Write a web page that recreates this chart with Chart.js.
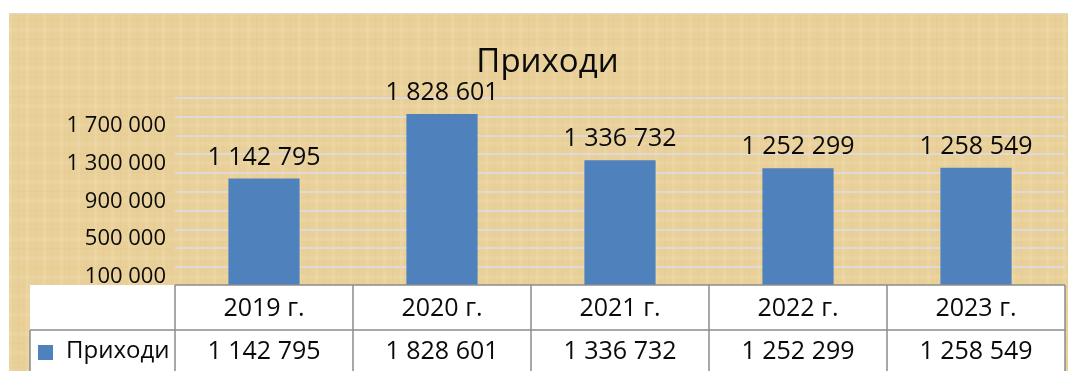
<!DOCTYPE html>
<html lang="bg">
<head>
  <meta charset="UTF-8">
  <title>Приходи</title>
  <script src="https://cdn.jsdelivr.net/npm/chart.js"></script>
  <style>
    body { margin: 0; background: #fff; }
    #wrap { position: relative; width: 1073px; height: 371px; overflow: hidden; background: #fff; }
    #papyrus {
      position: absolute; left: 9px; top: 13px; width: 1059px; height: 360px;
      border-top: 1px solid #ddd9d9;
      background-color: #e9d099;
      background-image:
        repeating-linear-gradient(90deg, rgba(255,250,225,0.10) 0 3px, transparent 3px 9px, rgba(150,110,40,0.04) 9px 10px, transparent 10px 17px),
        repeating-linear-gradient(0deg, rgba(255,250,225,0.08) 0 4px, transparent 4px 11px, rgba(150,110,40,0.035) 11px 12px, transparent 12px 19px);
    }
    #chart { position: absolute; left: 0; top: 0; }
  </style>
</head>
<body>
  <div id="wrap">
    <div id="papyrus"></div>
    <canvas id="chart" width="1073" height="371"></canvas>
  </div>

  <script>
  const title = 'Приходи';
  const seriesName = 'Приходи';
  const years = ['2019 г.', '2020 г.', '2021 г.', '2022 г.', '2023 г.'];
  const income = [1142795, 1828601, 1336732, 1252299, 1258549];
  const labeledTicks = [100000, 500000, 900000, 1300000, 1700000];

  const FONT = '"Open Sans", sans-serif';
  const BLUE = '#4f81bd';
  const INK = '#0a0a0a';

  // 1 142 795 style
  function fmt(v) {
    return String(v).replace(/\B(?=(\d{3})+(?!\d))/g, ' ');
  }

  // value labels above the bars
  const barLabels = {
    id: 'barLabels',
    afterDatasetsDraw(chart) {
      const c = chart.ctx;
      const meta = chart.getDatasetMeta(0);
      c.save();
      c.font = '25px ' + FONT;
      c.fillStyle = INK;
      c.textAlign = 'center';
      c.textBaseline = 'alphabetic';
      meta.data.forEach((bar, i) => {
        c.fillText(fmt(income[i]), bar.x, bar.y - 14);
      });
      c.restore();
    }
  };

  // data table under the plot
  const dataTable = {
    id: 'dataTable',
    afterDraw(chart) {
      const c = chart.ctx;
      const area = chart.chartArea;
      const xs = chart.scales.x;
      const colW = (area.right - area.left) / years.length;
      const top = area.bottom - 1;
      const mid = top + 45;
      const bot = mid + 45;
      const left = 30;

      c.save();
      c.fillStyle = '#fff';
      c.fillRect(left, top, area.right - left, bot - top);

      c.strokeStyle = '#8c8c8c';
      c.lineWidth = 1.5;
      c.beginPath();
      c.moveTo(area.left, top); c.lineTo(area.right, top);
      c.moveTo(left, mid); c.lineTo(area.right, mid);
      c.moveTo(left, mid); c.lineTo(left, bot);
      for (let i = 0; i <= years.length; i++) {
        const x = area.left + i * colW;
        c.moveTo(x, top); c.lineTo(x, bot);
      }
      c.stroke();

      c.font = '25px ' + FONT;
      c.fillStyle = INK;
      c.textAlign = 'center';
      c.textBaseline = 'middle';
      years.forEach((y, i) => {
        const x = xs.getPixelForValue(i);
        c.fillText(y, x, (top + mid) / 2 + 1);
        c.fillText(fmt(income[i]), x, (mid + bot) / 2 - 1);
      });

      // legend key
      c.fillStyle = BLUE;
      c.fillRect(38, mid + 15, 15, 15);
      c.fillStyle = INK;
      c.textAlign = 'left';
      c.font = '24px ' + FONT;
      c.fillText(seriesName, 66, (mid + bot) / 2 - 1);
      c.restore();
    }
  };

  const chart = new Chart(document.getElementById('chart'), {
    type: 'bar',
    data: {
      labels: years,
      datasets: [{
        label: seriesName,
        data: income,
        backgroundColor: BLUE,
        barPercentage: 0.4,
        categoryPercentage: 1.0
      }]
    },
    options: {
      responsive: false,
      animation: false,
      devicePixelRatio: 1,
      layout: { padding: { left: 30, right: 8, top: 0, bottom: 85 } },
      plugins: {
        legend: { display: false },
        tooltip: { enabled: false },
        title: {
          display: true,
          text: title,
          color: INK,
          font: { family: FONT, size: 33, weight: 'normal' },
          padding: { top: 43, bottom: 15.4 }
        }
      },
      scales: {
        x: { display: false },
        y: {
          min: 0,
          max: 2000000,
          border: { display: false },
          grid: {
            drawTicks: false,
            lineWidth: 2,
            color: ctx => (ctx.tick && ctx.tick.value > 0 && ctx.tick.value % 200000 === 0)
              ? 'rgba(222,218,220,0.95)' : 'rgba(0,0,0,0)'
          },
          ticks: {
            stepSize: 100000,
            autoSkip: false,
            padding: 9,
            color: INK,
            font: { family: FONT, size: 22 },
            callback: v => labeledTicks.includes(v) ? fmt(v) : ''
          },
          afterFit(scale) { scale.width = 145; }
        }
      }
    },
    plugins: [barLabels, dataTable]
  });
  </script>
</body>
</html>
